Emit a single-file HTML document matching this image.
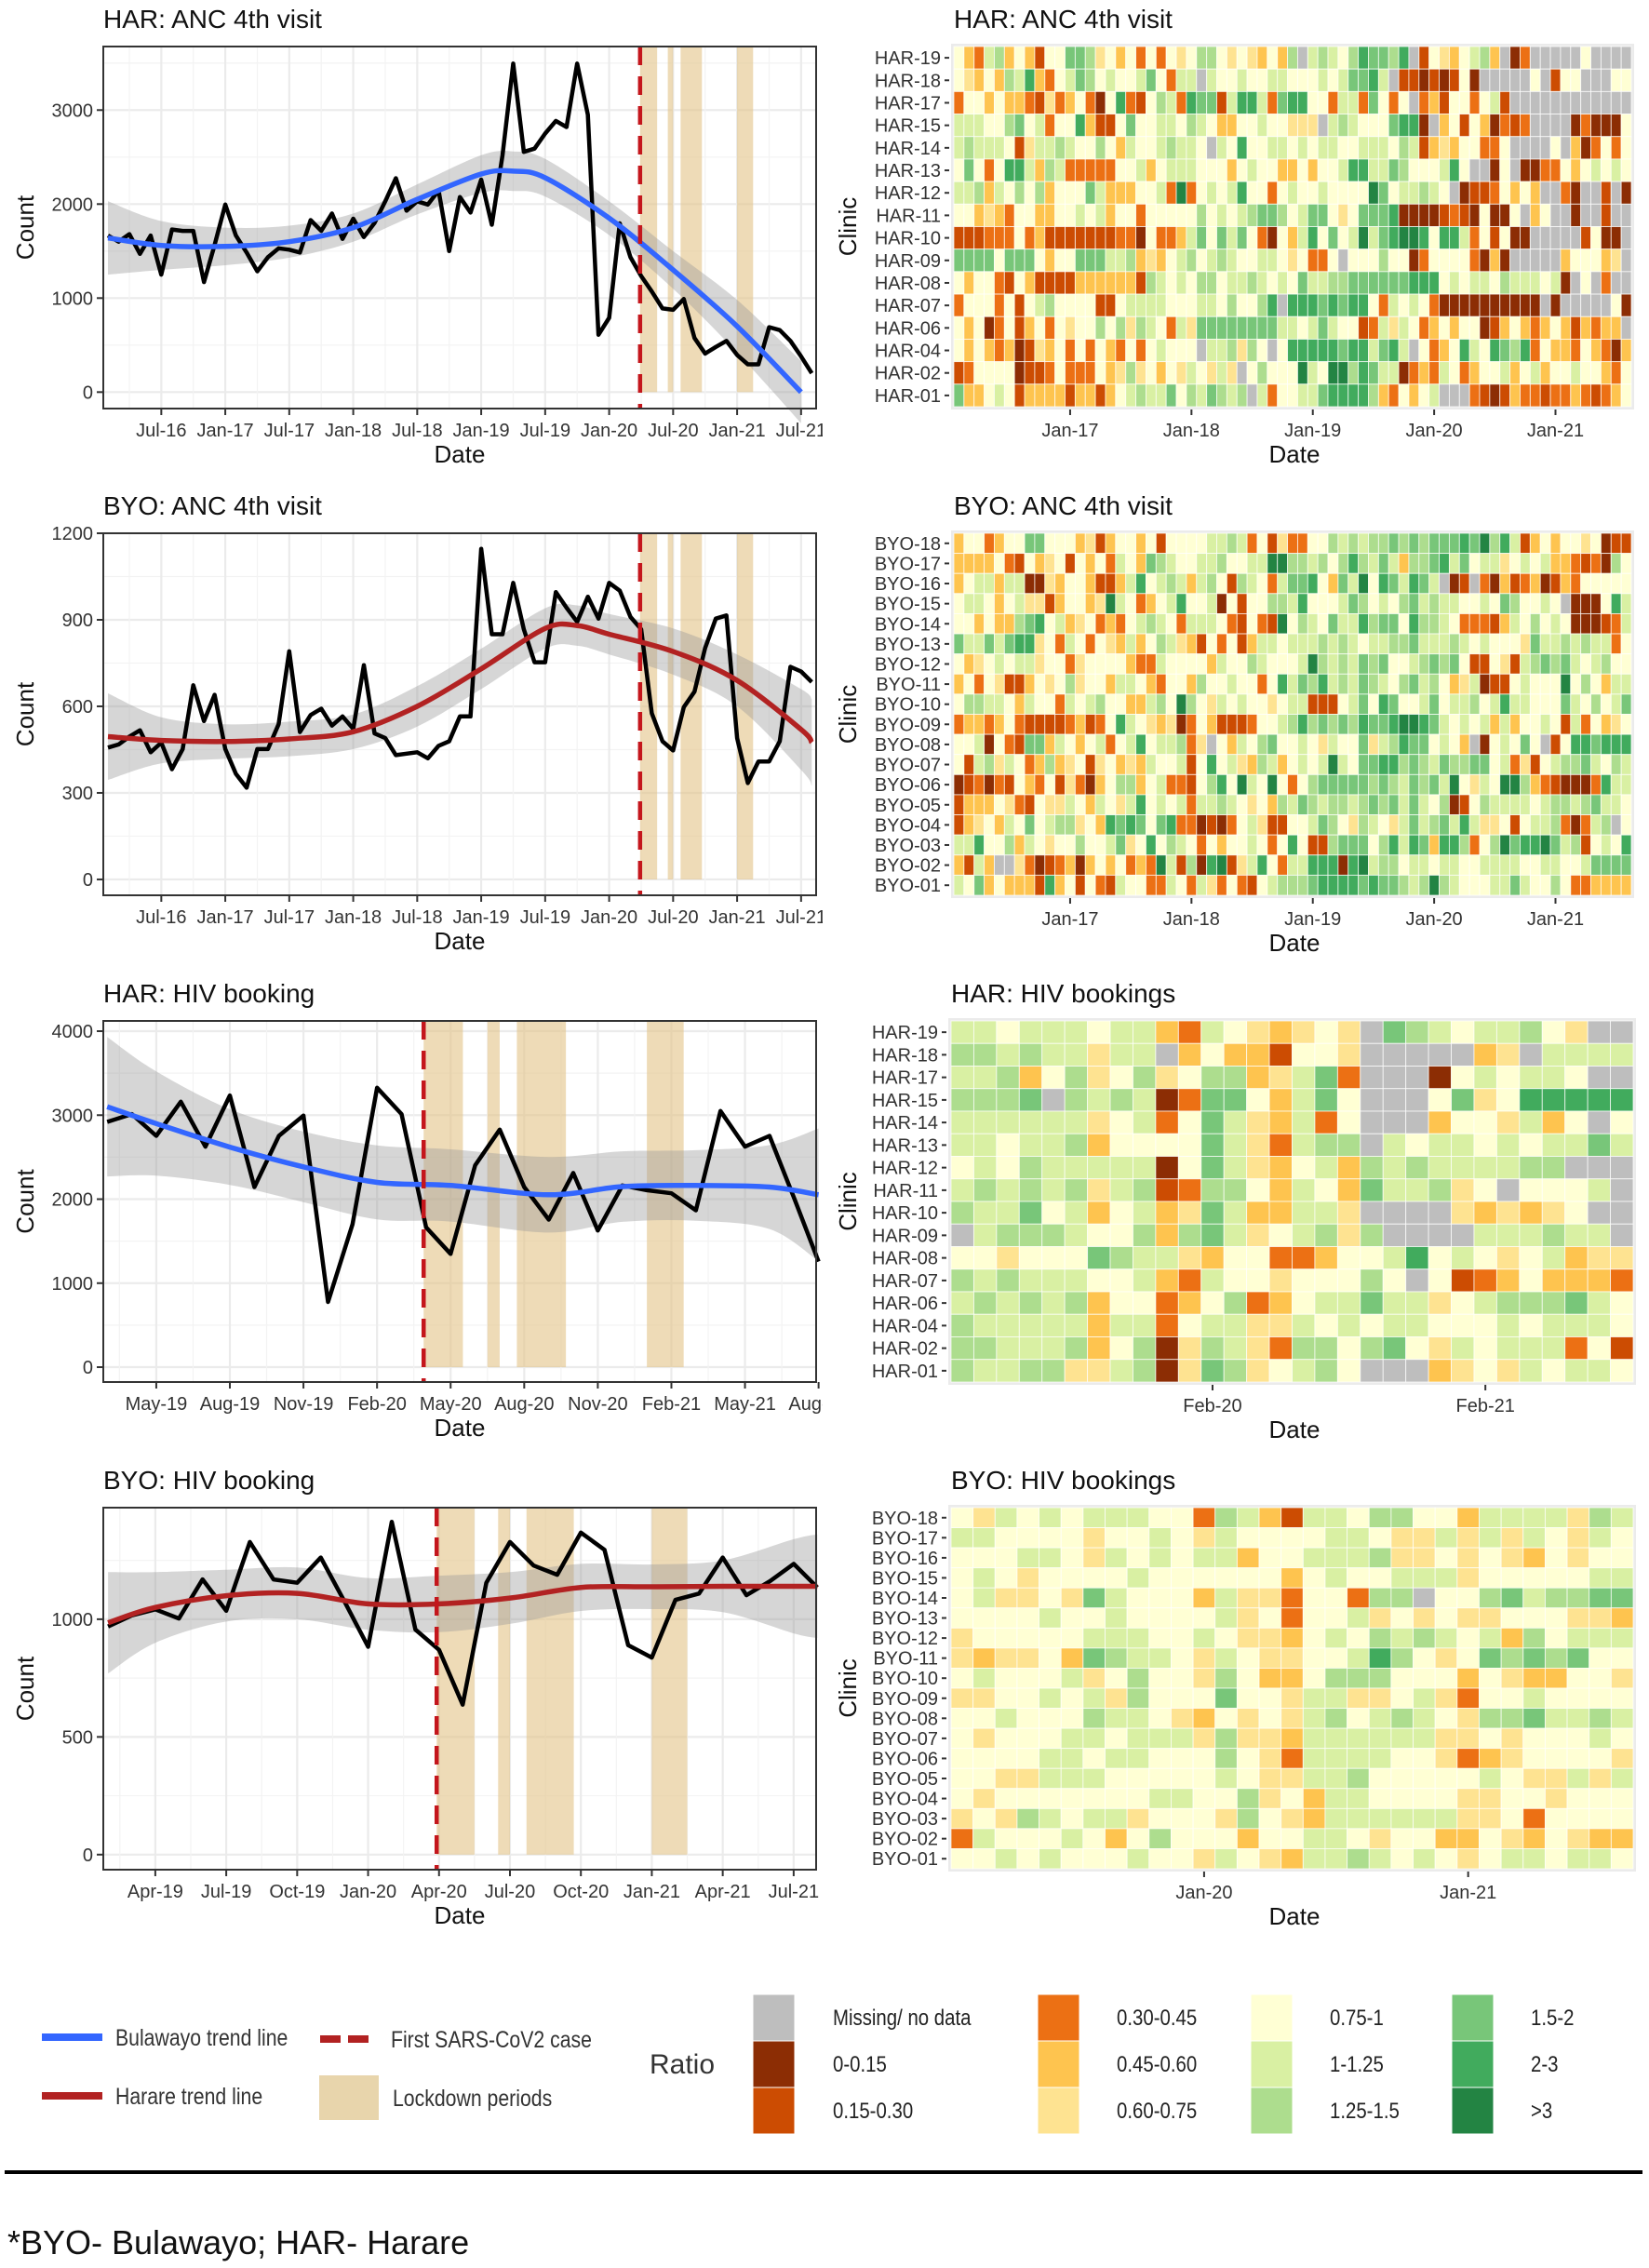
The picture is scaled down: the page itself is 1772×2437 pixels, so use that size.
<!DOCTYPE html>
<html><head><meta charset="utf-8">
<style>
html,body{margin:0;padding:0;background:#fff;}
svg{display:block;font-family:"Liberation Sans",Arial,sans-serif;}
</style></head>
<body>
<svg id="fig" width="1772" height="2437" viewBox="0 0 1772 2437" xmlns="http://www.w3.org/2000/svg">
<defs><clipPath id="leftClip"><rect x="0" y="0" width="884" height="2100"/></clipPath></defs>
<rect x="0" y="0" width="1772" height="2437" fill="#fff"/>
<g id="leftPanels" clip-path="url(#leftClip)"></g>
<g id="rightPanels"></g>
<g font-size="25" fill="#333">
  <g>
    <line x1="45" y1="2189" x2="110" y2="2189" stroke="#3366FF" stroke-width="8"/>
    <text x="124" y="2198" transform="translate(124 0) scale(0.85 1) translate(-124 0)">Bulawayo trend line</text>
  </g>
  <g>
    <line x1="45" y1="2252" x2="110" y2="2252" stroke="#B22222" stroke-width="8"/>
    <text x="124" y="2261" transform="translate(124 0) scale(0.85 1) translate(-124 0)">Harare trend line</text>
  </g>
  <g>
    <line x1="344" y1="2191" x2="400" y2="2191" stroke="#B22222" stroke-width="8" stroke-dasharray="22,8"/>
    <text x="420" y="2200" transform="translate(420 0) scale(0.85 1) translate(-420 0)">First SARS-CoV2 case</text>
  </g>
  <g>
    <rect x="343" y="2230" width="64" height="48" fill="#E8D5AC"/>
    <text x="422" y="2263" transform="translate(422 0) scale(0.85 1) translate(-422 0)">Lockdown periods</text>
  </g>
  <text x="698" y="2228" font-size="30">Ratio</text>
  <g id="ratioLegend"></g>
</g>
<line x1="5" y1="2334" x2="1765" y2="2334" stroke="#000" stroke-width="4"/>
<text x="8" y="2422" font-size="36" fill="#111">*BYO- Bulawayo; HAR- Harare</text>
</svg>
<script>
// ---------- shared data ----------
const lockdownStart = [50.9, 53.5, 54.7, 60.0];
const lockdownEnd = [52.5, 54.0, 56.7, 61.5];
const firstCaseMonth = 50.9;

// HAR ANC 4th visit (Feb-16 .. Aug-21), months since Jan-16
const harAncStartMonth = 1;
const harAncValues = [1665,1600,1680,1470,1665,1250,1730,1715,1715,1170,1565,
 1995,1665,1485,1285,1435,1530,1515,1485,1830,1715,1900,1630,
 1845,1650,1800,2030,2275,1930,2030,1995,2145,1500,2075,1910,
 2260,1780,2520,3495,2555,2590,2750,2885,2820,3495,2950,610,
 790,1795,1435,1235,1070,890,875,990,575,410,480,545,
 395,295,295,690,660,545,380,200];
const harAncTrendMonths = [1,6,12,18,24,30,36,39,42,48,54,60,66];
const harAncTrendValues = [1640,1560,1550,1600,1750,2050,2320,2350,2280,1850,1300,700,0];
const harAncTrendSE = [390,260,200,170,150,160,200,210,200,180,200,280,330];
const harAncYTicks = [0,1000,2000,3000];

// BYO ANC 4th visit
const byoAncStartMonth = 1;
const byoAncValues = [457,468,495,517,441,474,382,452,673,549,640,
 452,366,318,452,452,538,791,511,570,592,533,565,
 522,743,506,490,431,436,441,420,463,479,565,565,
 1146,850,850,1028,867,753,753,996,942,893,980,904,
 1028,1001,910,867,576,479,447,597,651,802,904,915,
 490,334,409,409,479,737,721,684];
const byoAncTrendMonths = [1,6,12,18,24,30,36,42,45,48,54,60,66,67];
const byoAncTrendValues = [495,482,478,487,512,600,730,870,880,850,790,690,520,475];
const byoAncTrendSE = [150,80,60,60,60,70,70,70,70,70,80,90,140,150];
const byoAncYTicks = [0,300,600,900,1200];

const ancXTickMonths = [6,12,18,24,30,36,42,48,54,60,66];
const ancXTickLabels = ["Jul-16","Jan-17","Jul-17","Jan-18","Jul-18","Jan-19","Jul-19","Jan-20","Jul-20","Jan-21","Jul-21"];

// HAR HIV booking (Mar-19 .. Aug-21)
const harHivStartMonth = 38;
const harHivValues = [2920,3013,2754,3160,2625,3235,2144,2754,2995,776,
 1700,3327,3013,1664,1349,2403,2828,2144,1756,2311,
 1627,2163,2107,2070,1867,3050,2625,2754,2015,1257];
const harHivTrendMonths = [38,40,43,46,49,52,56,59,62,65,67];
const harHivTrendValues = [3100,2900,2620,2385,2200,2163,2052,2150,2163,2144,2052];
const harHivTrendSE = [830,620,450,420,440,430,450,420,420,500,790];
const harHivYTicks = [0,1000,2000,3000,4000];
const harHivXTickMonths = [40,43,46,49,52,55,58,61,64,67];
const harHivXTickLabels = ["May-19","Aug-19","Nov-19","Feb-20","May-20","Aug-20","Nov-20","Feb-21","May-21","Aug-21"];

// BYO HIV booking (Feb-19 .. Aug-21)
const byoHivStartMonth = 37;
const byoHivValues = [969,1016,1042,1003,1169,1036,1328,1169,1155,1262,1076,
 883,1414,956,870,637,1155,1328,1228,1189,1368,1295,890,
 837,1082,1109,1262,1102,1162,1235,1135];
const byoHivTrendMonths = [37,39,42,45,48,51,54,57,60,63,66,67];
const byoHivTrendValues = [985,1050,1100,1110,1065,1065,1090,1135,1138,1140,1140,1140];
const byoHivTrendSE = [215,150,110,110,110,120,110,100,95,110,200,220];
const byoHivYTicks = [0,500,1000];
const byoHivXTickMonths = [39,42,45,48,51,54,57,60,63,66];
const byoHivXTickLabels = ["Apr-19","Jul-19","Oct-19","Jan-20","Apr-20","Jul-20","Oct-20","Jan-21","Apr-21","Jul-21"];

// ---------- heatmap data (ratio category codes) ----------
const ratioCodes = ["g","a","b","c","d","e","f","h","i","j","k","l"];
const ratioLabels = ["Missing/ no data","0-0.15","0.15-0.30","0.30-0.45","0.45-0.60","0.60-0.75","0.75-1","1-1.25","1.25-1.5","1.5-2","2-3",">3"];
const ratioColors = ["#BEBEBE","#8C2D04","#CC4C02","#EC7014","#FEC44F","#FEE391","#FFFFD4","#D9F0A3","#ADDD8E","#78C679","#41AB5D","#238443"];

const harAncClinics = ["HAR-19","HAR-18","HAR-17","HAR-15","HAR-14","HAR-13","HAR-12","HAR-11","HAR-10","HAR-09","HAR-08","HAR-07","HAR-06","HAR-04","HAR-02","HAR-01"];
const harAncRatios = [
"fdchidfdbffjjiefdfcfcfefiifefedfdighihfikjjikgbfedfhidgacgggggfgggg",
"fedfdihkdcfhjifhffhjfchhghffhffhhfffhfhjjkhgbbababfagggggfgbffggg",
"cffdfddcbecdfcafkcbfihckjjbhkkhcjkkffchhcjfcfgcdbffcfhbggggggggggggg",
"hhhffijfhcffkdbbfjffhhfihfddffhffeeeghihfffjkkagdfbfdacbcggggacaaafif",
"hihhhfbehhihffifdhffhihhfghfkffhhfhfhhffhhhfihbdedffccfggggfgdacfcfcd",
"fjfcfkkhdihcccccffhdfhhhfffdfhffddfdffhkkhhjifffhkfggafgaaccfdfhfhf",
"hhidhfifidfffjhdddffhclcfhfhkffcfhffhffffljfhhihfgabbcfdfdggcaggbgagggg",
"ffdedcffddffhfhdffcfffffifhfhijjifhjjfefjjjkaaaabcbafaafgdfggaggbggg",
"bbbcccfcdbbbbbbbccafccdhjfjhjfcafdhkfjfhlhjkllkfkkhcfbfaagggggbfaaggg",
"jjjjfjjjfdffjjjhhidedfhifhihffhhfefccfgfffiffacffffcadagggggdfffdeg",
"fdffcbfdbbbbddddddbihfhfiifhhihfhfjhhiijjjjjjkkkfhfhhfihhhfhagfgcggg",
"cfffcfbfhiffffbbfhhhhfffhhfiffikgkkkjkjkkfchfhfcaaaaaaaaaagagggggfa",
"fdfacfbdfcfeffifieihfchejjjjjjjjhhfhjhffbchehfcdfdffabdfdcdfdbdcddg",
"fdfdcdabedfcfcfdcfcfhfffghhieifgfkkkkkjkkhjkhgfcdfkhfkjikcfddcfdcad",
"bcffffabbcfcccfdeiefdfehfehegfiffflhfllikjhhacdchfcdffhdfhdffhffdc",
"jddfhfbddddbddbdfhihhjfihjihighcffhhjkkkkidcfdfhgggcbabdccbccdcbcd"];

const byoAncClinics = ["BYO-18","BYO-17","BYO-16","BYO-15","BYO-14","BYO-13","BYO-12","BYO-11","BYO-10","BYO-09","BYO-08","BYO-07","BYO-06","BYO-05","BYO-04","BYO-03","BYO-02","BYO-01"];
const byoAncRatios = [
"dffcdffjjfffdebdffdfbffffhhihcfbeccffihihiijijijjjkjlikhbdfdffefabbddj",
"ddddfcbfdefbfdfchfdjihffhhiffhhlliihifikihjhdiijkhjfhhefhfhddcbcai",
"dfhhdhhaaedffdbbdhkfhihdhifbihfchjjkfdjhlfkjhkjhgabgcadbcdabdc",
"fhhfdfheebdffdelhfcdfhkffhafbffiihkfffhjifhfijhihhffhfjiffhfgaaafkh",
"ffdfddijkfhdefcdcfhihfchhhfcbfcblfihfjhhkijjfkiihfcccbdhfifhfaaabchf",
"jhhjhjkkefchfcfedhdfihedbfcfbdhhfhhhihihfhhiijhhhihfhfffejhhihihhc",
"fdefhfhheffceffffdcchffffdhffihfffhlihihjijffhijijfbbfebhijijhfhif",
"dfcfebbdfefieffdhhfdcffdiffhffcfkhjikhihjihfijhifdehabbfhffflfifdhh",
"fiihhfdhffchfhiffddhiflifehfhffefhhbbbfhjfkjffhjfhhifhkhhfffjhfifhj",
"cddcdfcbbbbcdbcfkhfedeacfdbbbcffhikijijikjjkllkjhfhfhdhdffhfbhcfde",
"ffhafcbjjdhfdfhcfhkfhhiceofdhfijffhfehffjehikjjfhfdgafhfjfgbfkkjkkk",
"fbhiehfcdidefbefdedhffhbfkfhedihdfhfhlhfjjkkijihjiijjfhcebfhiijhfih",
"abcacbfdcfbecadfiidfhccbfikflhflfcfijjjjjijihjijhlfehfllidcbaaackhh",
"bdddfecbfeehfdhfehkfhfhchhihfefdihjihiihijijhjhfiabfihhhhfhiihijhh",
"bdefdhfjfhiiefdkjkjfjkccabacfhebbffhjifeihfehjhijhkheefbfhhicachig",
"hhkffidhfeffiffhjefkfihfcfdffhfcfkfbbijjjfikhkjdkkicfiljkkljhibfhfk",
"dbhdggecabcdadfdfcdclhbiaklbehkfchhkkkaklhiifhhfhhffhhhhffhhffhjjjj",
"hfjdfdddbkdfbfcbhffcchfchecfcbfhiiijkkkkjkjjihilihfffhhjhffifccdddd"];

const harHivClinics = harAncClinics;
const harHivRatios = [
"hhfhhhfhhdchfedefegjihfhhifegg",
"iihihhehhgdfddbffegggggdeghhhhg",
"hhidfiefiefiidehjcgggafhfhhfgg",
"iiijgihihacjjfdhjfgggfjefkkkkk",
"hhhhhhefhcfjhedhcfgggdffehdfgf",
"hhfhhidffffjhechiighfhhfhfhhjh",
"fhfihhhhhafjhedfhdihihhhhiiggg",
"hihihiehibciifdhfdjhhiefgfffhg",
"ihhjfhdfhdejhddhheggggededefgg",
"ghiiihffidijhefhieigggghhhihhgg",
"ffefffjihhedffccdffhkfhfefhdeeg",
"ihihhhffhdchffefffifgfbcdfdddc",
"hihihidffcdficdfhhjhhefhiiijh",
"ihhhhhdhhcfhheehfhfhhfffhfhhhf",
"iihhhidfiaeiheciifijfehfhhhcfb",
"ihhiieehiaejiefhifgggdefehfhhf"];

const byoHivClinics = byoAncClinics;
const byoHivRatios = [
"fehfhfhhhffcihdbhhfiiffdhhhheih",
"hhffffeffhfehffffhhfeeheheh fehf".replace(/ /g,""),
"fffhhfehfhfhhdffhhhieefefedfeff",
"fhfeffffhffffffdfhffhhhefffffhh",
"fheefejhfffdheecffciigffijhiijj",
"ffffhffhffffhefcffhefefeefffeedd",
"efffffhhhffhfeedfhfihihfhdifhhh",
"edeefdjihhfehfeeffhkifefjijijff",
"fhfffhefiffeifddfiiifffdfeddffe",
"eeffhfheifffjffehheefhecffhffff",
"ffhfffihhfedfefehifhihfeiijhhih",
"fefffhhfhhheieedhhhhhheefefffhff",
"ffffhhfhhfffifechhhhffecdeffffe",
"ffeehhhfffffhfeehhifffffhfeeheh",
"fefffffffhhffiefdhhffffeeffefff",
"efeihfhhefffeifedhhhhhheefcffffh",
"chfffhfdfifffdffhhfeffddfedfedd",
"ffhfhfffhffehfedhhihfhfefhhfhhf"];

// ---------- helpers ----------
const NS = "http://www.w3.org/2000/svg";
function mk(tag, attrs, parent) {
  const e = document.createElementNS(NS, tag);
  for (const k in attrs) e.setAttribute(k, attrs[k]);
  parent.appendChild(e);
  return e;
}
function smooth(pts) {
  let d = "M" + pts[0][0].toFixed(1) + "," + pts[0][1].toFixed(1);
  for (let i = 0; i < pts.length - 1; i++) {
    const p0 = pts[i - 1] || pts[i], p1 = pts[i], p2 = pts[i + 1], p3 = pts[i + 2] || pts[i + 1];
    const c1x = p1[0] + (p2[0] - p0[0]) / 6, c1y = p1[1] + (p2[1] - p0[1]) / 6;
    const c2x = p2[0] - (p3[0] - p1[0]) / 6, c2y = p2[1] - (p3[1] - p1[1]) / 6;
    d += " C" + c1x.toFixed(1) + "," + c1y.toFixed(1) + " " + c2x.toFixed(1) + "," + c2y.toFixed(1) + " " + p2[0].toFixed(1) + "," + p2[1].toFixed(1);
  }
  return d;
}

// ---------- line panels ----------
const linePanels = [
  {key:"har-anc", title:"HAR: ANC 4th visit", top:50, bottom:439, m0:0.56, m1:67.41, y0:-175, y1:3676,
   values:harAncValues, start:harAncStartMonth, tm:harAncTrendMonths, tv:harAncTrendValues, ts:harAncTrendSE,
   color:"#3366FF", yTicks:harAncYTicks, xm:ancXTickMonths, xl:ancXTickLabels, minorX:3},
  {key:"byo-anc", title:"BYO: ANC 4th visit", top:573, bottom:962, m0:0.56, m1:67.41, y0:-55, y1:1200,
   values:byoAncValues, start:byoAncStartMonth, tm:byoAncTrendMonths, tv:byoAncTrendValues, ts:byoAncTrendSE,
   color:"#B22222", yTicks:byoAncYTicks, xm:ancXTickMonths, xl:ancXTickLabels, minorX:3},
  {key:"har-hiv", title:"HAR: HIV booking", top:1097, bottom:1485, m0:37.84, m1:66.9, y0:-177, y1:4122,
   values:harHivValues, start:harHivStartMonth, tm:harHivTrendMonths, tv:harHivTrendValues, ts:harHivTrendSE,
   color:"#3366FF", yTicks:harHivYTicks, xm:harHivXTickMonths, xl:harHivXTickLabels, minorX:1.5},
  {key:"byo-hiv", title:"BYO: HIV booking", top:1620, bottom:2009, m0:36.8, m1:66.95, y0:-64, y1:1474,
   values:byoHivValues, start:byoHivStartMonth, tm:byoHivTrendMonths, tv:byoHivTrendValues, ts:byoHivTrendSE,
   color:"#B22222", yTicks:byoHivYTicks, xm:byoHivXTickMonths, xl:byoHivXTickLabels, minorX:1.5}
];
const PL = 111, PR = 877;
const leftRoot = document.getElementById("leftPanels");

linePanels.forEach(p => {
  const g = mk("g", {}, leftRoot);
  
  
  const xS = m => PL + (m - p.m0) / (p.m1 - p.m0) * (PR - PL);
  const yS = v => p.bottom - (v - p.y0) / (p.y1 - p.y0) * (p.bottom - p.top);

  const title = mk("text", {x:PL, y:p.top - 20, "font-size":28, fill:"#111"}, g);
  title.textContent = p.title;
  
  

  mk("rect", {x:PL, y:p.top, width:PR-PL, height:p.bottom-p.top, fill:"#fff"}, g);

  // grid
  const step = p.yTicks[1] - p.yTicks[0];
  for (let v = p.yTicks[0] - step/2; v <= p.y1; v += step/2) {
    if (v < p.y0) continue;
    const major = Math.abs((v - p.yTicks[0]) % step) < 1e-6;
    const gl = mk("line", {x1:PL, x2:PR, y1:yS(v), y2:yS(v), stroke: major ? "#EBEBEB" : "#F3F3F3", "stroke-width": major ? 2.2 : 1.2}, g);
    
    
  }
  for (let m = p.xm[0] - p.minorX * 4; m <= p.m1; m += p.minorX) {
    if (m < p.m0) continue;
    const major = p.xm.some(t => Math.abs(t - m) < 1e-6);
    const gl = mk("line", {x1:xS(m), x2:xS(m), y1:p.top, y2:p.bottom, stroke: major ? "#EBEBEB" : "#F3F3F3", "stroke-width": major ? 2.2 : 1.2}, g);
    
    
  }

  // lockdown bands
  lockdownStart.forEach((s, i) => {
    const b = mk("rect", {x:xS(s), y:p.top, width:xS(lockdownEnd[i]) - xS(s), height:yS(0) - p.top, fill:"#E3C58A", "fill-opacity":0.62}, g);
    
    
  });

  // ribbon
  const up = p.tm.map((m, i) => [xS(m), yS(p.tv[i] + p.ts[i])]);
  const lo = p.tm.map((m, i) => [xS(m), yS(p.tv[i] - p.ts[i])]).reverse();
  const rib = mk("path", {d: smooth(up) + " L" + smooth(lo).slice(1) + " Z", fill:"#999", "fill-opacity":0.4}, g);
  
  

  // raw series
  const pts = p.values.map((v, i) => xS(p.start + i).toFixed(1) + "," + yS(v).toFixed(1)).join(" ");
  const ln = mk("polyline", {points: pts, fill:"none", stroke:"#000", "stroke-width":4.5, "stroke-linejoin":"round"}, g);
  
  

  // trend
  const tr = mk("path", {d: smooth(p.tm.map((m, i) => [xS(m), yS(p.tv[i])])), fill:"none", stroke:p.color, "stroke-width":5.5}, g);
  
  

  // first case
  const fc = mk("line", {x1:xS(firstCaseMonth), x2:xS(firstCaseMonth), y1:p.top, y2:p.bottom, stroke:"#C4161C", "stroke-width":4.5, "stroke-dasharray":"20,12"}, g);
  
  

  const border = mk("rect", {x:PL, y:p.top, width:PR-PL, height:p.bottom-p.top, fill:"none", stroke:"#333", "stroke-width":2}, g);
  
  

  // y ticks
  p.yTicks.forEach(v => {
    mk("line", {x1:PL-7, x2:PL, y1:yS(v), y2:yS(v), stroke:"#333", "stroke-width":2}, g);
    const t = mk("text", {x:PL-11, y:yS(v)+7, "text-anchor":"end", "font-size":20, fill:"#333"}, g);
    t.textContent = v;
    
    
  });
  // x ticks
  p.xm.forEach((m, i) => {
    mk("line", {x1:xS(m), x2:xS(m), y1:p.bottom, y2:p.bottom+7, stroke:"#333", "stroke-width":2}, g);
    const t = mk("text", {x:xS(m), y:p.bottom+30, "text-anchor":"middle", "font-size":20, fill:"#333"}, g);
    t.textContent = p.xl[i];
    
    
  });
  const xt = mk("text", {x:(PL+PR)/2, y:p.bottom+58, "text-anchor":"middle", "font-size":26, fill:"#111"}, g);
  xt.textContent = "Date";
  
  
  const yc = (p.top + p.bottom) / 2;
  const yt = mk("text", {x:36, y:yc, "text-anchor":"middle", "font-size":26, fill:"#111", transform:"rotate(-90 36 " + yc + ")"}, g);
  yt.textContent = "Count";
  
  
});

// ---------- heatmaps ----------
const heatmaps = [
  {key:"har-anc", title:"HAR: ANC 4th visit", x0:1025, x1:1753, top:50, bottom:437, cols:67, clinics:harAncClinics, rows:harAncRatios, tickCols:[11,23,35,47,59], tickLabels:["Jan-17","Jan-18","Jan-19","Jan-20","Jan-21"]},
  {key:"byo-anc", title:"BYO: ANC 4th visit", x0:1025, x1:1753, top:573, bottom:962, cols:67, clinics:byoAncClinics, rows:byoAncRatios, tickCols:[11,23,35,47,59], tickLabels:["Jan-17","Jan-18","Jan-19","Jan-20","Jan-21"]},
  {key:"har-hiv", title:"HAR: HIV bookings", x0:1022, x1:1755, top:1097, bottom:1485, cols:30, clinics:harHivClinics, rows:harHivRatios, tickCols:[11,23], tickLabels:["Feb-20","Feb-21"]},
  {key:"byo-hiv", title:"BYO: HIV bookings", x0:1022, x1:1755, top:1620, bottom:2008, cols:31, clinics:byoHivClinics, rows:byoHivRatios, tickCols:[11,23], tickLabels:["Jan-20","Jan-21"]}
];
const rightRoot = document.getElementById("rightPanels");
heatmaps.forEach(h => {
  const g = mk("g", {}, rightRoot);
  
  
  const title = mk("text", {x:h.x0, y:h.top - 20, "font-size":28, fill:"#111"}, g);
  title.textContent = h.title;
  
  
  mk("rect", {x:h.x0-3, y:h.top-3, width:h.x1-h.x0+6, height:h.bottom-h.top+6, fill:"#EBEBEB"}, g);
  const cw = (h.x1 - h.x0) / h.cols, rh = (h.bottom - h.top) / h.clinics.length;
  h.clinics.forEach((cl, r) => {
    const s = h.rows[r] || "";
    for (let c = 0; c < h.cols; c++) {
      const code = s[c] || "f";
      const idx = Math.max(0, ratioCodes.indexOf(code));
      const cell = mk("rect", {x:h.x0 + c*cw, y:h.top + r*rh, width:cw, height:rh, fill:ratioColors[idx], stroke:"#fff", "stroke-width":0.9, "stroke-opacity":0.8}, g);
      
      
    }
    const yc = h.top + (r + 0.5) * rh;
    mk("line", {x1:h.x0-10, x2:h.x0-5, y1:yc, y2:yc, stroke:"#333", "stroke-width":2}, g);
    const t = mk("text", {x:h.x0-14, y:yc+7, "text-anchor":"end", "font-size":20, fill:"#333"}, g);
    t.textContent = cl;
    
    
  });
  h.tickCols.forEach((c, i) => {
    const x = h.x0 + (c + 0.5) * cw;
    mk("line", {x1:x, x2:x, y1:h.bottom+3, y2:h.bottom+9, stroke:"#333", "stroke-width":2}, g);
    const t = mk("text", {x:x, y:h.bottom+32, "text-anchor":"middle", "font-size":20, fill:"#333"}, g);
    t.textContent = h.tickLabels[i];
    
    
  });
  const xt = mk("text", {x:1391, y:h.bottom+60, "text-anchor":"middle", "font-size":26, fill:"#111"}, g);
  xt.textContent = "Date";
  
  
  const yc = (h.top + h.bottom) / 2;
  const yt = mk("text", {x:920, y:yc, "text-anchor":"middle", "font-size":26, fill:"#111", transform:"rotate(-90 920 " + yc + ")"}, g);
  yt.textContent = "Clinic";
  
  
});

// ---------- ratio legend ----------
const legRoot = document.getElementById("ratioLegend");
const legColX = [809, 1115, 1344, 1560];
const legLabelX = [895, 1200, 1429, 1645];
const legRowY = [2143, 2193, 2243];
ratioLabels.forEach((lab, i) => {
  const col = Math.floor(i / 3), row = i % 3;
  const sw = mk("rect", {x:legColX[col], y:legRowY[row], width:45, height:50, fill:ratioColors[i], stroke:"#fff", "stroke-width":1}, legRoot);
  
  
  const t = mk("text", {x:legLabelX[col], y:legRowY[row]+33, "font-size":24, fill:"#222", transform:"translate(" + legLabelX[col] + " 0) scale(0.85 1) translate(" + (-legLabelX[col]) + " 0)"}, legRoot);
  t.textContent = lab;
  
  
});
</script>
</body></html>
